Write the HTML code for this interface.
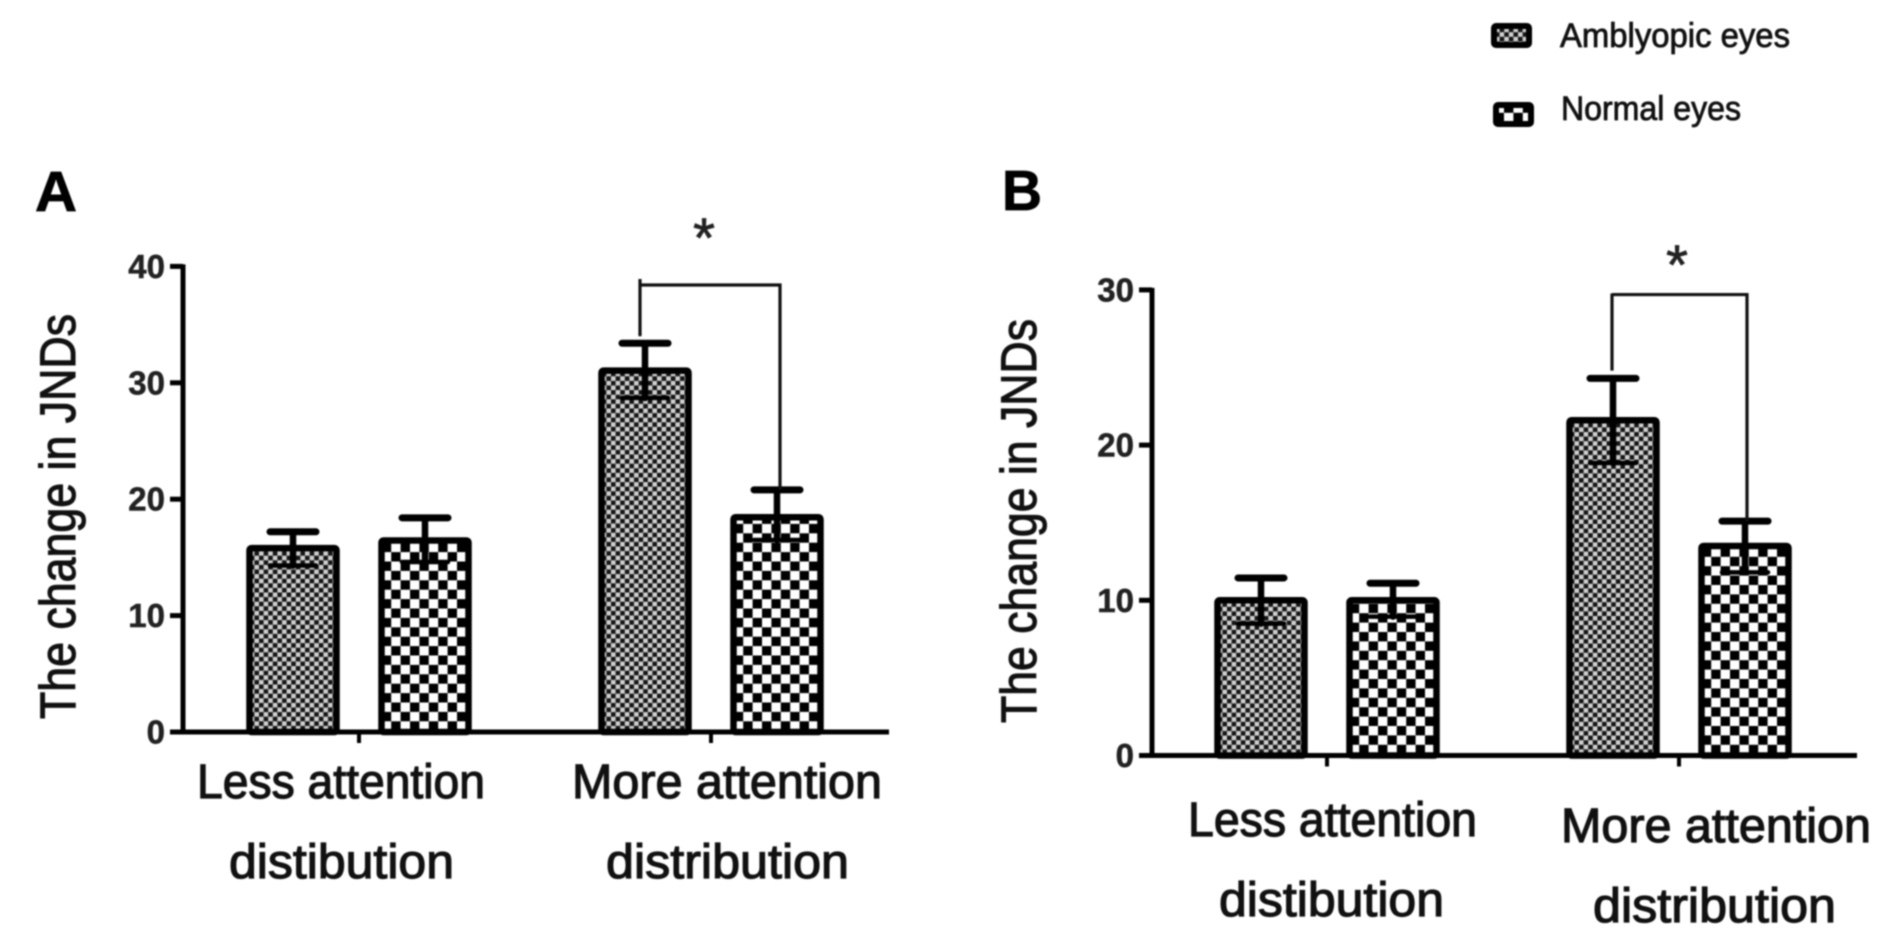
<!DOCTYPE html>
<html lang="en">
<head>
<meta charset="utf-8">
<title>The change in JNDs by attention distribution</title>
<style>
html,body{margin:0;padding:0;background:#fff;width:1890px;height:943px;overflow:hidden}
svg{display:block;filter:blur(0.7px)}
text{font-family:"Liberation Sans",Arial,sans-serif;fill:#111}
.tick{font-weight:700;font-size:33px;fill:#222;stroke:#222;stroke-width:.5px;text-anchor:end}
.cat{font-size:48px;stroke:#111;stroke-width:1.2px}
.ylab{font-size:50px;stroke:#111;stroke-width:1.1px}
.leg{font-size:34px;stroke:#111;stroke-width:.8px}
.letter{font-size:57px;font-weight:700;fill:#000;stroke:#000;stroke-width:.8px}
.star{font-size:56px;text-anchor:middle;fill:#222;stroke:#222;stroke-width:.8px}
</style>
</head>
<body>
<svg id="fig" xmlns="http://www.w3.org/2000/svg" width="1890" height="943" viewBox="0 0 1890 943">
  <defs id="defs">
    <pattern id="fine" patternUnits="userSpaceOnUse" width="9.2" height="9.2">
      <rect width="9.2" height="9.2" fill="#d0d0d0"/>
      <rect x="0" y="0" width="4.6" height="4.6" fill="#151515"/>
      <rect x="4.6" y="4.6" width="4.6" height="4.6" fill="#151515"/>
    </pattern>
    <pattern id="coarse" patternUnits="userSpaceOnUse" width="18.8" height="18.8">
      <rect width="18.8" height="18.8" fill="#000"/>
      <rect x="0" y="0" width="9.4" height="9.4" fill="#fff"/>
      <rect x="9.4" y="9.4" width="9.4" height="9.4" fill="#fff"/>
    </pattern>
  </defs>

  <g>
    <rect x="1494" y="26" width="35" height="19" rx="2" fill="url(#fine)" stroke="#000" stroke-width="6"/>
    <text class="leg" x="1560" y="47" textLength="230" lengthAdjust="spacingAndGlyphs">Amblyopic eyes</text>
    <rect x="1496" y="105" width="35" height="19" rx="2" fill="url(#coarse)" stroke="#000" stroke-width="6"/>
    <text class="leg" x="1561" y="120" textLength="180" lengthAdjust="spacingAndGlyphs">Normal eyes</text>
  </g>

  <text class="letter" x="35" y="211" textLength="42" lengthAdjust="spacingAndGlyphs">A</text>
  <text class="letter" x="1002" y="210" textLength="40" lengthAdjust="spacingAndGlyphs">B</text>

  <text class="ylab" transform="translate(75,719) rotate(-90)" textLength="405" lengthAdjust="spacingAndGlyphs">The change in JNDs</text>
  <text class="ylab" transform="translate(1036,723) rotate(-90)" textLength="404" lengthAdjust="spacingAndGlyphs">The change in JNDs</text>

  <text class="cat" x="197" y="798" textLength="288" lengthAdjust="spacingAndGlyphs">Less attention</text>
  <text class="cat" x="229" y="878" textLength="225" lengthAdjust="spacingAndGlyphs">distibution</text>
  <text class="cat" x="572" y="798" textLength="310" lengthAdjust="spacingAndGlyphs">More attention</text>
  <text class="cat" x="606" y="878" textLength="243" lengthAdjust="spacingAndGlyphs">distribution</text>

  <text class="cat" x="1188" y="836" textLength="289" lengthAdjust="spacingAndGlyphs">Less attention</text>
  <text class="cat" x="1219" y="916" textLength="225" lengthAdjust="spacingAndGlyphs">distibution</text>
  <text class="cat" x="1561" y="842" textLength="310" lengthAdjust="spacingAndGlyphs">More attention</text>
  <text class="cat" x="1593" y="922" textLength="243" lengthAdjust="spacingAndGlyphs">distribution</text>
</svg>
<script>
// Panel A data
const aTicks = [0, 10, 20, 30, 40];
const aAmblyopicMeans = [15.8, 31.05];
const aNormalMeans = [16.45, 18.45];
const aAmblyopicUpper = [17.2, 33.4];
const aAmblyopicLower = [14.3, 28.7];
const aNormalUpper = [18.4, 20.8];
const aNormalLower = [14.6, 16.5];
const aBracketTop = 38.4;
const aBracketLeftEnd = 34.0;

// Panel B data
const bTicks = [0, 10, 20, 30];
const bAmblyopicMeans = [10.0, 21.6];
const bNormalMeans = [10.0, 13.5];
const bAmblyopicUpper = [11.44, 24.3];
const bAmblyopicLower = [8.5, 18.85];
const bNormalUpper = [11.1, 15.1];
const bNormalLower = [8.95, 11.8];
const bBracketTop = 29.7;
const bBracketLeftEnd = 24.8;

const NS = 'http://www.w3.org/2000/svg';
const fig = document.getElementById('fig');
const defs = document.getElementById('defs');

function make(tag, parent, props) {
  const el = document.createElementNS(NS, tag);
  for (const k in props) el.setAttribute(k, props[k]);
  parent.appendChild(el);
  return el;
}

function barPattern(base, key, ox, oy) {
  const pat = document.getElementById(base).cloneNode(true);
  pat.id = base + '-' + key;
  pat.setAttribute('patternTransform', 'translate(' + ox + ' ' + oy + ')');
  defs.appendChild(pat);
  return 'url(#' + pat.id + ')';
}

function drawPanel(p) {
  const y = v => p.y0 - v * p.unit;
  const group = i => p.x0 + p.step * i;

  const root = make('g', fig, {});
  
  

  const drawBar = (cx, mean, up, low, base, series, i) => {
    const key = p.id + '-' + series + '-' + i;
    const fill = barPattern(base, key, cx - 46.5 + 3.3, p.y0 - 10.7);
    const bar = make('rect', root, {
      x: cx - 43.5, y: y(mean), width: 87, height: p.y0 - y(mean),
      rx: 2, fill: fill, stroke: '#000', 'stroke-width': 6.5
    });
    
    

    const err = make('g', root, { stroke: '#000', 'stroke-linecap': 'round', fill: 'none' });
    
    
    make('line', err, { x1: cx, x2: cx, y1: y(up), y2: y(low), 'stroke-width': 6.5 });
    make('line', err, { x1: cx - 23, x2: cx + 23, y1: y(up), y2: y(up), 'stroke-width': 7 });
    make('line', err, { x1: cx - 23, x2: cx + 23, y1: y(low), y2: y(low), 'stroke-width': 4.5 });
  };

  p.amb.forEach((m, i) => {
    drawBar(group(i) - 66, m, p.ambUp[i], p.ambLow[i], 'fine', 'amblyopic', i);
    drawBar(group(i) + 66, p.norm[i], p.normUp[i], p.normLow[i], 'coarse', 'normal', i);
  });

  const axes = make('g', root, { stroke: '#000', 'stroke-width': 5, fill: 'none' });
  
  
  const top = p.ticks[p.ticks.length - 1];
  make('line', axes, { x1: p.axisX, x2: p.axisX, y1: y(top) - 2, y2: p.y0 });
  make('line', axes, { x1: p.axisX - 13, x2: p.axisEnd, y1: p.y0, y2: p.y0 });

  p.ticks.forEach(t => {
    make('line', axes, { x1: p.axisX - 13, x2: p.axisX, y1: y(t), y2: y(t) });
    const label = make('text', root, { class: 'tick', x: p.axisX - 18, y: y(t) + 11.5 });
    
    
    label.textContent = String(t);
  });
  p.amb.forEach((m, i) => {
    make('line', axes, { x1: group(i), x2: group(i), y1: p.y0, y2: p.y0 + 11, 'stroke-width': 4 });
  });

  const xL = group(1) - 66 + p.brL;
  const xR = group(1) + 66 + p.brR;
  const br = make('path', root, {
    d: 'M' + xL + ' ' + y(p.brLeftEnd) + ' L' + xL + ' ' + (y(p.brTop) - p.brStub) +
       ' M' + xL + ' ' + y(p.brTop) + ' L' + xR + ' ' + y(p.brTop) + ' L' + xR + ' ' + y(p.normUp[1]),
    fill: 'none', stroke: '#111', 'stroke-width': 3.2
  });
  
  

  const star = make('text', root, { class: 'star', x: p.starX, y: p.starY });
  
  
  star.textContent = '*';
}

drawPanel({
  id: 'a', y0: 732, unit: 11.64, x0: 359, step: 352, axisX: 183, axisEnd: 889,
  ticks: aTicks, amb: aAmblyopicMeans, norm: aNormalMeans,
  ambUp: aAmblyopicUpper, ambLow: aAmblyopicLower,
  normUp: aNormalUpper, normLow: aNormalLower,
  brTop: aBracketTop, brLeftEnd: aBracketLeftEnd, brL: -5, brR: 3, brStub: 6,
  starX: 704, starY: 257
});
drawPanel({
  id: 'b', y0: 755.5, unit: 15.52, x0: 1327, step: 352, axisX: 1152, axisEnd: 1857,
  ticks: bTicks, amb: bAmblyopicMeans, norm: bNormalMeans,
  ambUp: bAmblyopicUpper, ambLow: bAmblyopicLower,
  normUp: bNormalUpper, normLow: bNormalLower,
  brTop: bBracketTop, brLeftEnd: bBracketLeftEnd, brL: -1, brR: 2, brStub: 1,
  starX: 1677, starY: 284
});
</script>
</body>
</html>
